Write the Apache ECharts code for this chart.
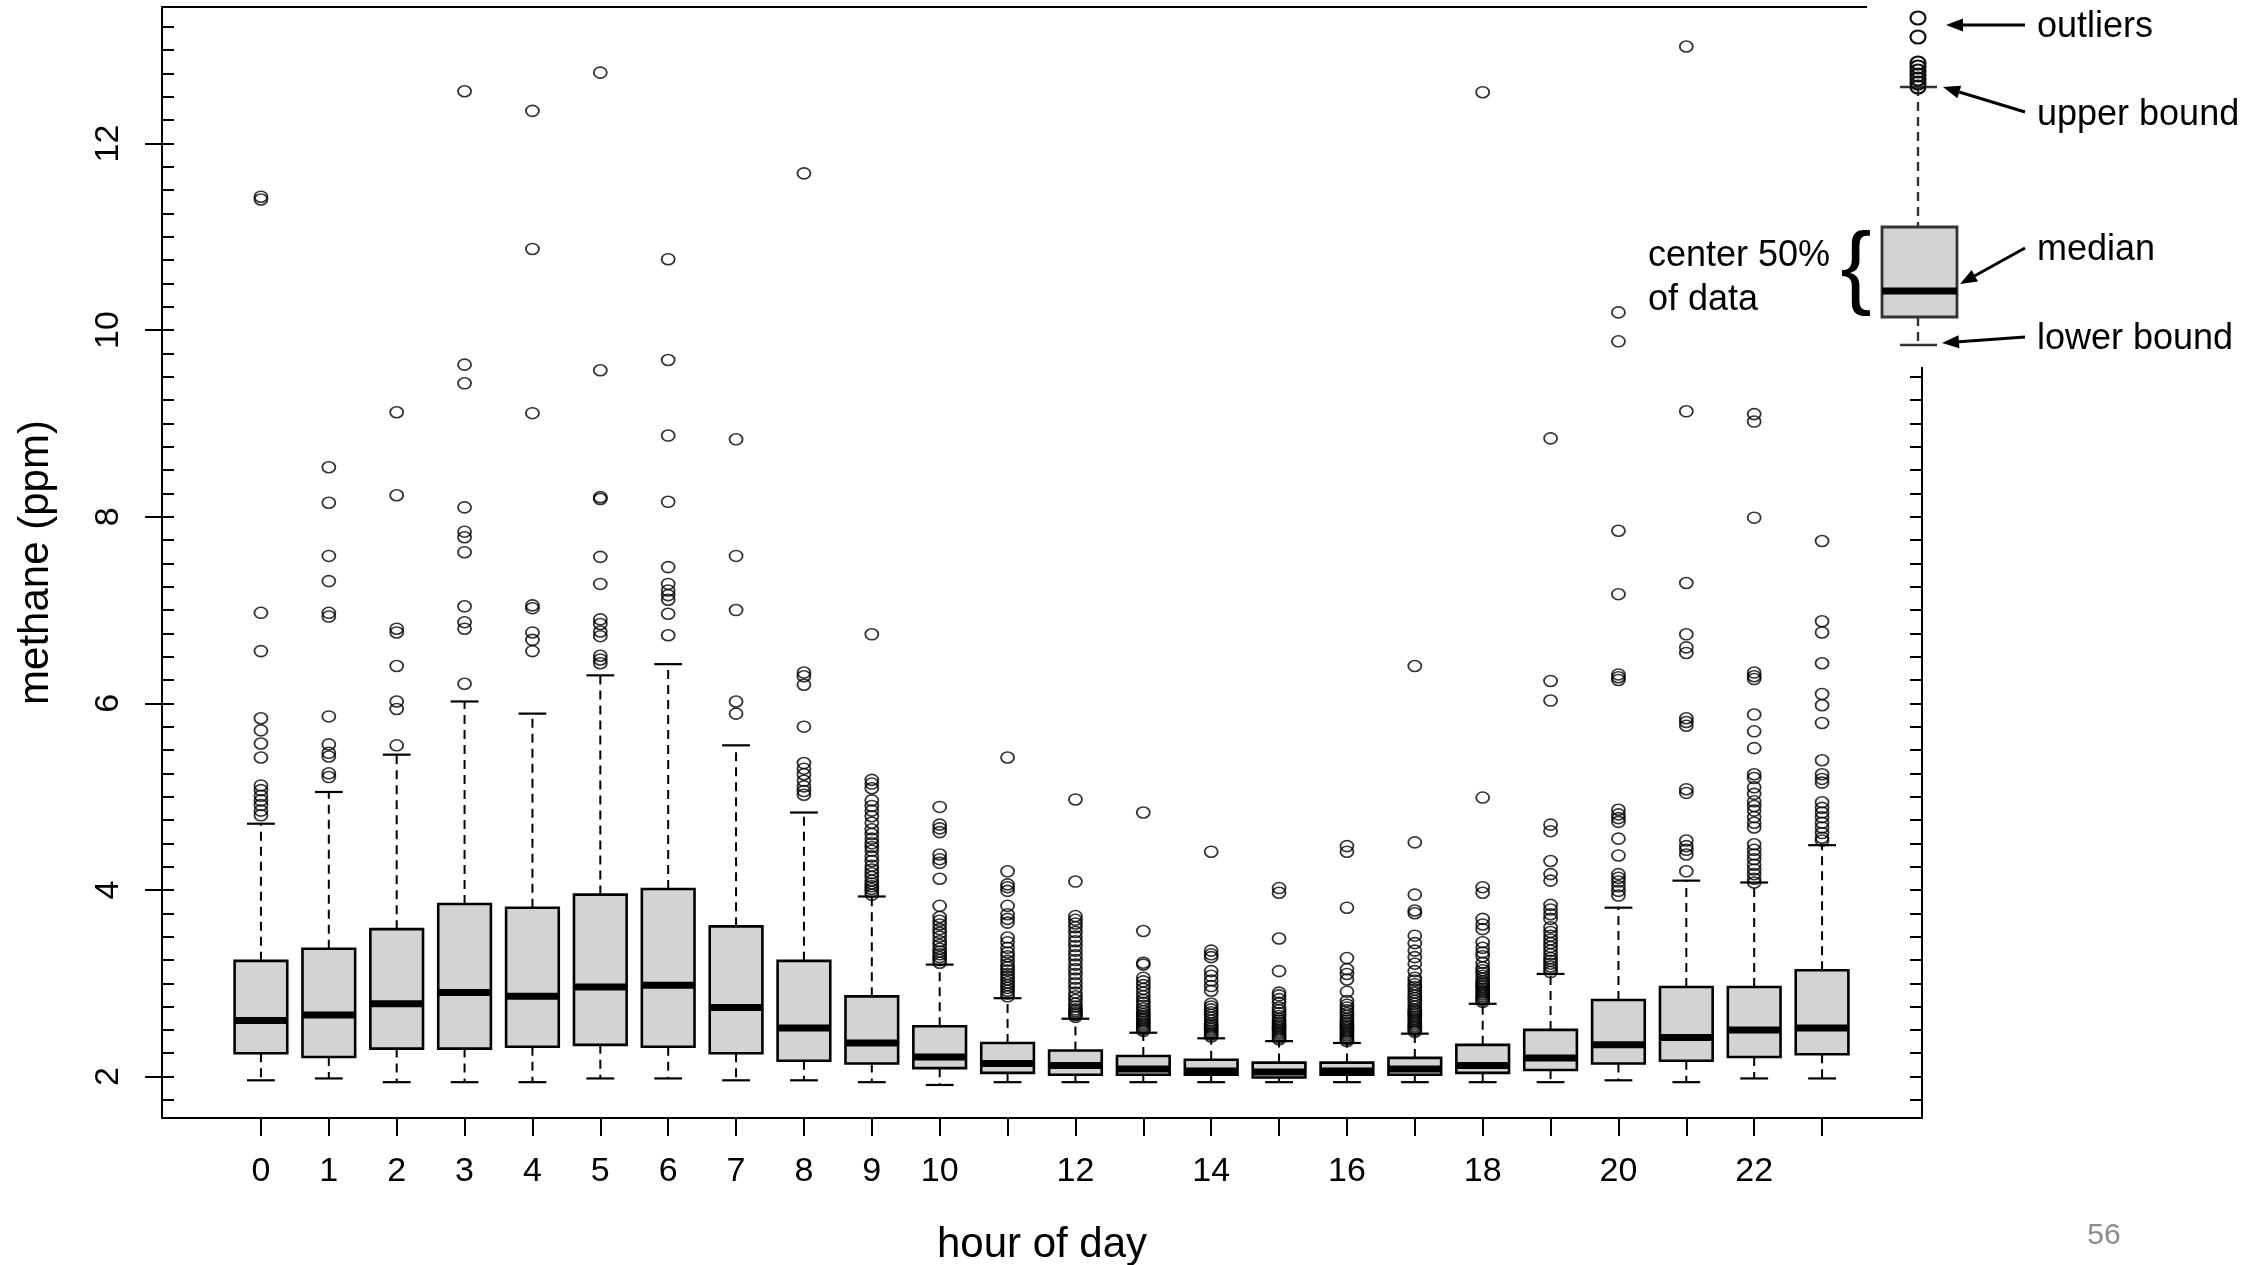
<!DOCTYPE html>
<html><head><meta charset="utf-8">
<script src="https://cdn.jsdelivr.net/npm/echarts@6/dist/echarts.min.js"></script>
<style>html,body{margin:0;padding:0;background:#fff;}#c{width:2268px;height:1265px;}</style>
</head><body><div id="c"></div>
<script>
// ---------- data ----------
const hours = ['0','1','2','3','4','5','6','7','8','9','10','11','12','13','14','15','16','17','18','19','20','21','22','23'];
const xTickLabels = ['0','1','2','3','4','5','6','7','8','9','10','','12','','14','','16','','18','','20','','22',''];
const lowerWhisker = [1.96,1.98,1.94,1.94,1.94,1.98,1.98,1.96,1.96,1.94,1.91,1.94,1.94,1.94,1.94,1.94,1.94,1.94,1.94,1.94,1.96,1.94,1.98,1.98];
const q1           = [2.25,2.21,2.30,2.30,2.32,2.34,2.32,2.25,2.17,2.14,2.09,2.04,2.02,2.02,2.02,1.99,2.02,2.02,2.04,2.07,2.14,2.17,2.21,2.24];
const median       = [2.60,2.66,2.78,2.90,2.86,2.96,2.98,2.74,2.52,2.36,2.21,2.14,2.12,2.08,2.06,2.05,2.06,2.08,2.12,2.20,2.34,2.42,2.50,2.52];
const q3           = [3.24,3.37,3.58,3.85,3.81,3.95,4.01,3.61,3.24,2.86,2.54,2.36,2.28,2.22,2.18,2.15,2.15,2.20,2.34,2.50,2.82,2.96,2.96,3.14];
const upperWhisker = [4.71,5.05,5.45,6.02,5.89,6.30,6.42,5.55,4.83,3.93,3.20,2.84,2.62,2.47,2.41,2.38,2.36,2.46,2.78,3.10,3.81,4.10,4.08,4.48];
const outliers = [
  [11.40,11.43,6.97,6.56,5.84,5.71,5.57,5.42,5.12,5.07,5.01,4.96,4.91,4.85,4.80],
  [8.53,8.15,7.58,7.31,6.97,6.93,5.86,5.56,5.47,5.43,5.25,5.21],
  [9.12,8.23,6.80,6.76,6.40,6.02,5.94,5.55],
  [12.56,9.63,9.43,8.10,7.84,7.78,7.62,7.04,6.87,6.80,6.21],
  [12.35,10.87,9.11,7.05,7.02,6.76,6.68,6.56],
  [12.76,9.57,8.21,8.19,7.57,7.28,6.90,6.85,6.77,6.72,6.51,6.47,6.43],
  [10.76,9.68,8.87,8.16,7.46,7.28,7.21,7.16,7.11,6.96,6.73],
  [8.83,7.58,7.00,6.02,5.89],
  [11.68,6.33,6.29,6.20,5.75,5.36,5.30,5.24,5.17,5.11,5.06,5.02],
  [6.74,5.18,5.14,5.09,4.96,4.90,4.85,4.79,4.72,4.65,4.60,4.55,4.50,4.46,4.42,4.36,4.31,4.26,4.22,4.18,4.14,4.10,4.07,4.04,4.01,3.98,3.95],
  [4.89,4.70,4.66,4.62,4.38,4.33,4.29,4.12,3.83,3.71,3.67,3.63,3.58,3.54,3.50,3.45,3.41,3.37,3.34,3.31,3.28,3.25,3.22],
  [5.42,4.20,4.06,4.03,3.99,3.83,3.74,3.69,3.65,3.49,3.44,3.38,3.33,3.29,3.24,3.20,3.17,3.14,3.10,3.07,3.04,3.01,2.98,2.95,2.92,2.89,2.86],
  [4.97,4.09,3.72,3.68,3.64,3.60,3.55,3.50,3.45,3.40,3.35,3.30,3.25,3.20,3.15,3.10,3.05,3.00,2.95,2.90,2.86,2.82,2.78,2.75,2.72,2.70,2.68,2.66,2.64],
  [4.83,3.56,3.22,3.20,3.06,3.02,2.98,2.94,2.90,2.86,2.82,2.79,2.76,2.73,2.70,2.67,2.65,2.63,2.61,2.59,2.57,2.55,2.53,2.51,2.49],
  [4.41,3.35,3.31,3.28,3.13,3.08,3.03,2.97,2.92,2.78,2.75,2.72,2.69,2.66,2.63,2.60,2.57,2.55,2.53,2.51,2.49,2.47,2.45,2.43],
  [4.02,3.97,3.48,3.13,2.90,2.87,2.83,2.79,2.74,2.71,2.68,2.65,2.62,2.60,2.58,2.56,2.54,2.52,2.50,2.48,2.46,2.44,2.42,2.40],
  [4.47,4.41,3.81,3.27,3.15,3.10,3.04,2.91,2.81,2.77,2.74,2.71,2.68,2.65,2.62,2.60,2.58,2.56,2.54,2.52,2.50,2.48,2.46,2.44,2.42,2.40,2.38],
  [6.40,4.51,3.95,3.78,3.75,3.51,3.43,3.35,3.28,3.21,3.13,3.06,3.03,2.99,2.96,2.93,2.90,2.87,2.84,2.81,2.78,2.75,2.72,2.70,2.68,2.66,2.64,2.62,2.60,2.58,2.56,2.54,2.52,2.50,2.48],
  [12.55,4.99,4.03,3.97,3.69,3.63,3.58,3.44,3.38,3.33,3.29,3.22,3.17,3.14,3.11,3.08,3.05,3.02,3.00,2.98,2.96,2.94,2.92,2.90,2.88,2.86,2.84,2.82,2.80],
  [8.84,6.24,6.03,4.70,4.63,4.31,4.17,4.10,3.84,3.79,3.74,3.69,3.60,3.55,3.51,3.47,3.43,3.39,3.35,3.31,3.27,3.24,3.21,3.18,3.15,3.12],
  [10.19,9.88,7.85,7.17,6.31,6.28,6.25,4.86,4.81,4.77,4.73,4.55,4.37,4.17,4.13,4.09,4.04,3.99,3.94],
  [13.04,9.13,7.29,6.74,6.60,6.54,5.84,5.80,5.76,5.08,5.04,4.53,4.47,4.43,4.38,4.20],
  [9.10,9.02,7.99,6.33,6.29,6.26,5.88,5.70,5.52,5.24,5.20,5.10,5.03,4.95,4.90,4.85,4.78,4.72,4.67,4.49,4.43,4.38,4.33,4.27,4.22,4.17,4.12,4.08],
  [7.74,6.88,6.76,6.43,6.10,5.98,5.79,5.39,5.24,5.19,5.15,4.94,4.88,4.83,4.78,4.72,4.67,4.61,4.56,4.53]
];
const yTickValues = [2,4,6,8,10,12];
const yInnerTicks = [1.75,2,2.25,2.5,2.75,3,3.25,3.5,3.75,4,4.25,4.5,4.75,5,5.25,5.5,5.75,6,6.25,6.5,6.75,7,7.25,7.5,7.75,8,8.25,8.5,8.75,9,9.25,9.5,9.75,10,10.25,10.5,10.75,11,11.25,11.5,11.75,12,12.25,12.5,12.75,13,13.25];
const rightTicks = [1.75,2,2.25,2.5,2.75,3,3.25,3.5,3.75,4,4.25,4.5,4.75,5,5.25,5.5,5.75,6,6.25,6.5,6.75,7,7.25,7.5,7.75,8,8.25,8.5,8.75,9,9.25,9.5];
const xTitle = 'hour of day';
const yTitle = 'methane (ppm)';
const legendLabels = ['outliers','upper bound','median','lower bound'];
const braceLabel = ['center 50%','of data'];
const pageNumber = '56';

// ---------- layout ----------
const FONT = '"Liberation Sans", Arial, sans-serif';
const YMIN = 1.556, YMAX = 13.463;
const ELLIPSE = 'path://M0,50A50,50 0 1,0 100,50A50,50 0 1,0 0,50Z';
const boxData = hours.map((h, i) => [i, lowerWhisker[i], q1[i], median[i], q3[i], upperWhisker[i]]);
const outlierData = [];
outliers.forEach((arr, i) => arr.forEach(v => outlierData.push([i, v])));

const chart = echarts.init(document.getElementById('c'), null, {renderer: 'canvas'});

function arrow(sx, sy, tx, ty) {
  const dx = tx - sx, dy = ty - sy, L = Math.sqrt(dx*dx + dy*dy);
  const ux = dx / L, uy = dy / L, hl = 17, hw = 6.5;
  const bx = tx - ux*hl, by = ty - uy*hl;
  return [
    {type:'line', z:110, shape:{x1:sx, y1:sy, x2:bx, y2:by}, style:{stroke:'#000', lineWidth:3}},
    {type:'polygon', z:110, shape:{points:[[tx,ty],[bx - uy*hw, by + ux*hw],[bx + uy*hw, by - ux*hw]]}, style:{fill:'#000'}}
  ];
}

const LX = 1918;
const legendEls = [
  {type:'rect', z:100, shape:{x:1867, y:0, width:401, height:367}, style:{fill:'#fff'}},
  {type:'line', z:105, shape:{x1:LX, y1:87, x2:LX, y2:227}, style:{stroke:'#333', lineWidth:2.4, lineDash:[9,6]}},
  {type:'line', z:105, shape:{x1:LX, y1:317, x2:LX, y2:345}, style:{stroke:'#333', lineWidth:2.4, lineDash:[9,6]}},
  {type:'line', z:105, shape:{x1:1900, y1:87, x2:1937, y2:87}, style:{stroke:'#333', lineWidth:2.4}},
  {type:'line', z:105, shape:{x1:1900, y1:345, x2:1937, y2:345}, style:{stroke:'#333', lineWidth:2.4}},
  {type:'rect', z:105, shape:{x:1882, y:227, width:75, height:90}, style:{fill:'#d3d3d3', stroke:'#333', lineWidth:2.8}},
  {type:'line', z:106, shape:{x1:1882, y1:291, x2:1957, y2:291}, style:{stroke:'#000', lineWidth:7}},
];
[18, 37, 63, 67, 71, 75, 79, 83, 87].forEach(cy => legendEls.push(
  {type:'ellipse', z:106, shape:{cx:LX, cy:cy, rx:7.5, ry:6.5}, style:{fill:'none', stroke:'#111', lineWidth:2.2}}));
legendEls.push(...arrow(2025, 25, 1946, 25));
legendEls.push(...arrow(2025, 112, 1943, 87));
legendEls.push(...arrow(2025, 248, 1960, 284));
legendEls.push(...arrow(2025, 337, 1942, 343));
const labelY = [27, 115, 250, 339];
legendLabels.forEach((t, i) => legendEls.push(
  {type:'text', z:110, x:2037, y:labelY[i], style:{text:t, font:'36px ' + FONT, fill:'#000', verticalAlign:'middle', align:'left'}}));
legendEls.push({type:'text', z:110, x:1648, y:256, style:{text:braceLabel[0], font:'36px ' + FONT, fill:'#000', verticalAlign:'middle', align:'left'}});
legendEls.push({type:'text', z:110, x:1648, y:300, style:{text:braceLabel[1], font:'36px ' + FONT, fill:'#000', verticalAlign:'middle', align:'left'}});
legendEls.push({type:'text', z:110, x:1856, y:271, style:{text:'{', font:'93px ' + FONT, fill:'#000', verticalAlign:'middle', align:'center'}});
legendEls.push({type:'text', z:110, x:2104, y:1236, style:{text:pageNumber, font:'30px "Liberation Sans Narrow", ' + FONT, fill:'#8c8c8c', verticalAlign:'middle', align:'center'}});

const axisLineStyle = {color:'#000', width:2};

const option = {
  animation: false,
  backgroundColor: '#fff',
  textStyle: {fontFamily: FONT},
  grid: [
    {left:162, top:7, width:1760, height:1111, containLabel:false, outerBoundsMode:'none'},
    {left:227, top:7, width:1629, height:1111, containLabel:false, outerBoundsMode:'none'}
  ],
  xAxis: [
    {gridIndex:0, type:'value', position:'bottom', min:0, max:1,
     axisLine:{show:true, onZero:false, lineStyle:axisLineStyle}, axisTick:{show:false}, axisLabel:{show:false}, splitLine:{show:false},
     name:xTitle, nameLocation:'middle', nameGap:106, nameTextStyle:{fontSize:42, color:'#000', fontFamily:FONT}},
    {gridIndex:0, type:'value', position:'top', min:0, max:1,
     axisLine:{show:true, onZero:false, lineStyle:axisLineStyle}, axisTick:{show:false}, axisLabel:{show:false}, splitLine:{show:false}},
    {gridIndex:1, type:'category', position:'bottom', data:hours, boundaryGap:true,
     axisLine:{show:false, onZero:false},
     axisTick:{show:true, alignWithLabel:true, interval:0, length:18, lineStyle:{color:'#000', width:2}},
     axisLabel:{show:true, interval:0, margin:37, fontSize:34, color:'#000', fontFamily:FONT, formatter:(v, i) => xTickLabels[i]},
     splitLine:{show:false}}
  ],
  yAxis: [
    {gridIndex:0, type:'value', position:'left', min:YMIN, max:YMAX,
     axisLine:{show:true, onZero:false, lineStyle:axisLineStyle},
     axisTick:{show:true, inside:false, length:17, customValues:yTickValues, lineStyle:{color:'#000', width:2}},
     axisLabel:{show:true, customValues:yTickValues, rotate:90, margin:36, fontSize:34, color:'#000', fontFamily:FONT},
     splitLine:{show:false},
     name:yTitle, nameLocation:'middle', nameRotate:90, nameGap:105, nameTextStyle:{fontSize:42, color:'#000', fontFamily:FONT}},
    {gridIndex:0, type:'value', position:'left', min:YMIN, max:YMAX,
     axisLine:{show:false},
     axisTick:{show:true, inside:true, length:12, customValues:yInnerTicks, lineStyle:{color:'#000', width:2}},
     axisLabel:{show:false}, splitLine:{show:false}},
    {gridIndex:0, type:'value', position:'right', min:YMIN, max:YMAX,
     axisLine:{show:true, onZero:false, lineStyle:axisLineStyle},
     axisTick:{show:true, inside:true, length:12, customValues:rightTicks, lineStyle:{color:'#000', width:2}},
     axisLabel:{show:false}, splitLine:{show:false}},
    {gridIndex:1, type:'value', min:YMIN, max:YMAX, show:false, splitLine:{show:false}}
  ],
  series: [
    {type:'custom', xAxisIndex:2, yAxisIndex:3, data:boxData, encode:{x:0, y:[1,2,3,4,5]}, z:3,
     renderItem: function (params, api) {
       const i = api.value(0);
       const pLo = api.coord([i, api.value(1)]);
       const pQ1 = api.coord([i, api.value(2)]);
       const pMed = api.coord([i, api.value(3)]);
       const pQ3 = api.coord([i, api.value(4)]);
       const pHi = api.coord([i, api.value(5)]);
       const band = api.size([1, 0])[0];
       const bw = band * 0.776, cw = band * 0.41;
       const cx = pMed[0];
       const dash = {stroke:'#000', lineWidth:2, lineDash:[9,6]};
       const solid = {stroke:'#000', lineWidth:2.2};
       return {type:'group', children:[
         {type:'line', shape:{x1:cx, y1:pQ3[1], x2:cx, y2:pHi[1]}, style:dash},
         {type:'line', shape:{x1:cx, y1:pQ1[1], x2:cx, y2:pLo[1]}, style:dash},
         {type:'line', shape:{x1:cx - cw/2, y1:pHi[1], x2:cx + cw/2, y2:pHi[1]}, style:solid},
         {type:'line', shape:{x1:cx - cw/2, y1:pLo[1], x2:cx + cw/2, y2:pLo[1]}, style:solid},
         {type:'rect', shape:{x:cx - bw/2, y:pQ3[1], width:bw, height:pQ1[1] - pQ3[1]}, style:{fill:'#d3d3d3', stroke:'#000', lineWidth:2.6}},
         {type:'line', shape:{x1:cx - bw/2, y1:pMed[1], x2:cx + bw/2, y2:pMed[1]}, style:{stroke:'#000', lineWidth:7}}
       ]};
     }},
    {type:'scatter', xAxisIndex:2, yAxisIndex:3, data:outlierData, symbol:ELLIPSE, symbolSize:[13, 11], z:4,
     itemStyle:{color:'rgba(0,0,0,0)', borderColor:'#000', borderWidth:1.7}}
  ],
  graphic: {elements: legendEls}
};
chart.setOption(option);
</script>
</body></html>
